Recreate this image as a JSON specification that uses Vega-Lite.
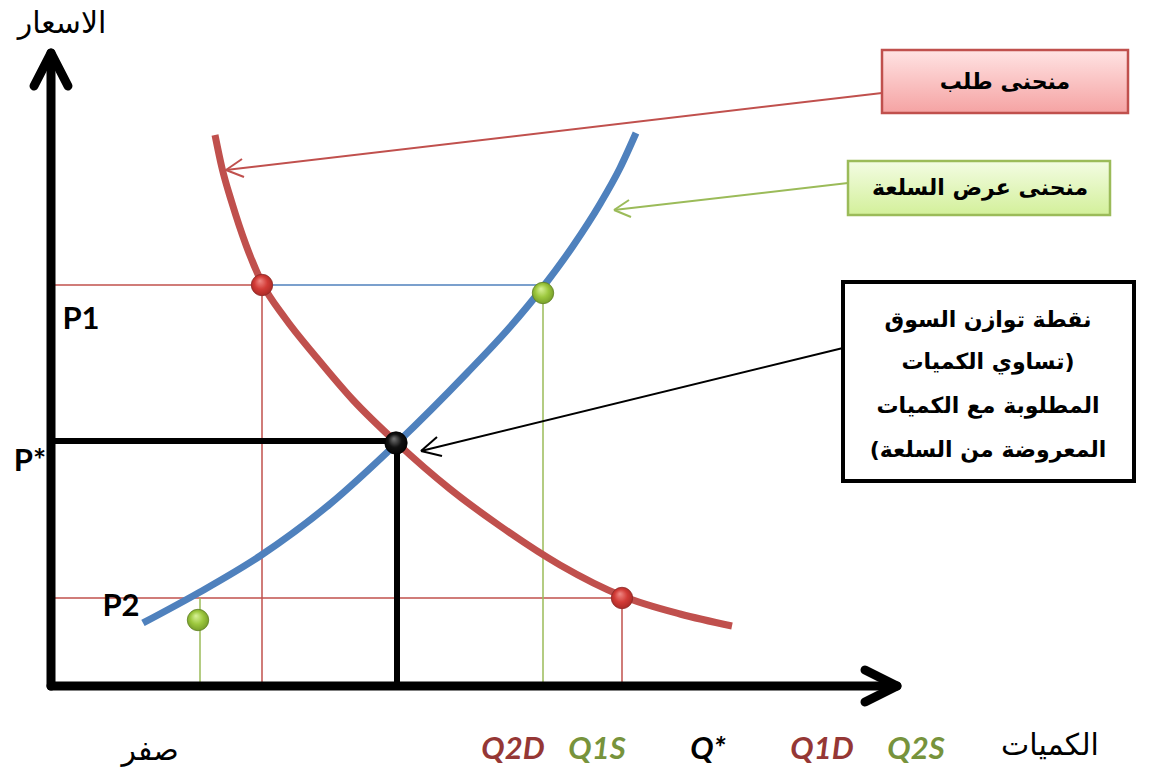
{
  "$schema": "https://vega.github.io/schema/vega-lite/v6.json",
  "width": 1149,
  "height": 778,
  "autosize": {"type": "fit", "contains": "padding"},
  "padding": 0,
  "background": "white",
  "config": {"view": {"stroke": null}},
  "datasets": {
    "guideRed": [
      {"x": 48, "y": 285, "x2": 262, "y2": 285},
      {"x": 262, "y": 285, "x2": 262, "y2": 686},
      {"x": 48, "y": 598, "x2": 622, "y2": 598},
      {"x": 622, "y": 598, "x2": 622, "y2": 686}
    ],
    "guideBlue": [
      {"x": 262, "y": 285, "x2": 543, "y2": 285}
    ],
    "guideGreen": [
      {"x": 543, "y": 293, "x2": 543, "y2": 686},
      {"x": 200, "y": 598, "x2": 200, "y2": 686}
    ],
    "guideBlack": [
      {"x": 48, "y": 441, "x2": 397, "y2": 441},
      {"x": 397, "y": 443, "x2": 397, "y2": 686}
    ],
    "axes": [
      {"x": 51, "y": 55, "x2": 51, "y2": 686},
      {"x": 51, "y": 53, "x2": 34, "y2": 86},
      {"x": 51, "y": 53, "x2": 68, "y2": 86},
      {"x": 51, "y": 686, "x2": 895, "y2": 686},
      {"x": 897, "y": 686, "x2": 865, "y2": 670},
      {"x": 897, "y": 686, "x2": 865, "y2": 702}
    ],
    "demand": [
      {"x": 215, "y": 135}, {"x": 222, "y": 168}, {"x": 232, "y": 203},
      {"x": 246, "y": 245}, {"x": 262, "y": 283}, {"x": 285, "y": 318},
      {"x": 317, "y": 358}, {"x": 353, "y": 400}, {"x": 397, "y": 443},
      {"x": 450, "y": 489}, {"x": 500, "y": 526}, {"x": 560, "y": 565},
      {"x": 622, "y": 596}, {"x": 680, "y": 614}, {"x": 732, "y": 626}
    ],
    "supply": [
      {"x": 143, "y": 623}, {"x": 200, "y": 592}, {"x": 260, "y": 556},
      {"x": 330, "y": 504}, {"x": 397, "y": 443}, {"x": 467, "y": 373},
      {"x": 510, "y": 327}, {"x": 543, "y": 287}, {"x": 573, "y": 246},
      {"x": 600, "y": 204}, {"x": 620, "y": 168}, {"x": 636, "y": 133}
    ],
    "dotsRed": [{"x": 262, "y": 285}, {"x": 622, "y": 598}],
    "dotsGreen": [{"x": 543, "y": 293}, {"x": 198, "y": 620}],
    "dotsBlack": [{"x": 396, "y": 443}],
    "boxes": [
      {"box": "demand", "x": 882, "x2": 1128, "y": 50, "y2": 113},
      {"box": "supply", "x": 848, "x2": 1110, "y": 161, "y2": 215},
      {"box": "equilibrium", "x": 843, "x2": 1134, "y": 282, "y2": 481}
    ],
    "arrowRed": [
      {"x": 882, "y": 93, "x2": 226, "y2": 170},
      {"x": 226, "y": 170, "x2": 244, "y2": 177},
      {"x": 226, "y": 170, "x2": 242, "y2": 159}
    ],
    "arrowGreen": [
      {"x": 848, "y": 183, "x2": 614, "y2": 210},
      {"x": 614, "y": 210, "x2": 631, "y2": 217},
      {"x": 614, "y": 210, "x2": 629, "y2": 200}
    ],
    "arrowBlack": [
      {"x": 843, "y": 348, "x2": 421, "y2": 451},
      {"x": 421, "y": 451, "x2": 442, "y2": 456},
      {"x": 421, "y": 451, "x2": 437, "y2": 437}
    ],
    "qLabels": [
      {"label": "Q2D", "curve": "demand", "x": 513, "y": 750},
      {"label": "Q1S", "curve": "supply", "x": 597, "y": 750},
      {"label": "Q*", "curve": "equilibrium", "x": 708, "y": 750},
      {"label": "Q1D", "curve": "demand", "x": 822, "y": 750},
      {"label": "Q2S", "curve": "supply", "x": 916, "y": 750}
    ],
    "pLabels": [
      {"label": "P1", "x": 81, "y": 320},
      {"label": "P*", "x": 30, "y": 462},
      {"label": "P2", "x": 121, "y": 607}
    ],
    "arabicLabels": [
      {"label": "الاسعار", "x": 62, "y": 24},
      {"label": "صفر", "x": 150, "y": 751},
      {"label": "الكميات", "x": 1050, "y": 746}
    ],
    "boxText": [
      {"label": "منحنى طلب", "x": 1005, "y": 82},
      {"label": "منحنى عرض السلعة", "x": 980, "y": 188},
      {"label": "نقطة توازن السوق", "x": 988, "y": 320},
      {"label": "\u200f(تساوي الكميات", "x": 988, "y": 362},
      {"label": "المطلوبة مع الكميات", "x": 988, "y": 406},
      {"label": "المعروضة من السلعة)\u200f", "x": 988, "y": 450}
    ]
  },
  "encoding": {
    "x": {"field": "x", "type": "quantitative", "scale": {"domain": [0, 1149]}, "axis": null},
    "y": {"field": "y", "type": "quantitative", "scale": {"domain": [0, 778], "reverse": true}, "axis": null}
  },
  "layer": [
    {
      "data": {"name": "guideRed"},
      "mark": {"type": "rule", "color": "#C0504D", "strokeWidth": 1.5},
      "encoding": {"x2": {"field": "x2"}, "y2": {"field": "y2"}}
    },
    {
      "data": {"name": "guideBlue"},
      "mark": {"type": "rule", "color": "#4F81BD", "strokeWidth": 1.5},
      "encoding": {"x2": {"field": "x2"}, "y2": {"field": "y2"}}
    },
    {
      "data": {"name": "guideGreen"},
      "mark": {"type": "rule", "color": "#9BBB59", "strokeWidth": 1.5},
      "encoding": {"x2": {"field": "x2"}, "y2": {"field": "y2"}}
    },
    {
      "data": {"name": "demand"},
      "mark": {"type": "line", "color": "#C0504D", "strokeWidth": 7, "interpolate": "monotone"},
      "encoding": {}
    },
    {
      "data": {"name": "supply"},
      "mark": {"type": "line", "color": "#4F81BD", "strokeWidth": 7, "interpolate": "monotone"},
      "encoding": {}
    },
    {
      "data": {"name": "guideBlack"},
      "mark": {"type": "rule", "color": "black", "strokeWidth": 6},
      "encoding": {"x2": {"field": "x2"}, "y2": {"field": "y2"}}
    },
    {
      "data": {"name": "axes"},
      "mark": {"type": "rule", "color": "black", "strokeWidth": 9, "strokeCap": "round"},
      "encoding": {"x2": {"field": "x2"}, "y2": {"field": "y2"}}
    },
    {
      "data": {"name": "dotsRed"},
      "mark": {
        "type": "point", "filled": true, "size": 460, "opacity": 1,
        "stroke": "#8B2A27", "strokeWidth": 0.8,
        "fill": {"gradient": "radial", "x1": 0.4, "y1": 0.3, "r1": 0, "x2": 0.5, "y2": 0.5, "r2": 0.6,
          "stops": [{"offset": 0, "color": "#F08A86"}, {"offset": 0.5, "color": "#D23B36"}, {"offset": 1, "color": "#9E2622"}]}
      }
    },
    {
      "data": {"name": "dotsGreen"},
      "mark": {
        "type": "point", "filled": true, "size": 460, "opacity": 1,
        "stroke": "#5E7F22", "strokeWidth": 0.8,
        "fill": {"gradient": "radial", "x1": 0.4, "y1": 0.3, "r1": 0, "x2": 0.5, "y2": 0.5, "r2": 0.6,
          "stops": [{"offset": 0, "color": "#D9F29A"}, {"offset": 0.5, "color": "#9DC83E"}, {"offset": 1, "color": "#6B9124"}]}
      }
    },
    {
      "data": {"name": "dotsBlack"},
      "mark": {
        "type": "point", "filled": true, "size": 500, "opacity": 1,
        "stroke": "black", "strokeWidth": 0.8,
        "fill": {"gradient": "radial", "x1": 0.4, "y1": 0.3, "r1": 0, "x2": 0.5, "y2": 0.5, "r2": 0.6,
          "stops": [{"offset": 0, "color": "#777777"}, {"offset": 0.5, "color": "#111111"}, {"offset": 1, "color": "#000000"}]}
      }
    },
    {
      "data": {"name": "arrowRed"},
      "mark": {"type": "rule", "color": "#C0504D", "strokeWidth": 2},
      "encoding": {"x2": {"field": "x2"}, "y2": {"field": "y2"}}
    },
    {
      "data": {"name": "arrowGreen"},
      "mark": {"type": "rule", "color": "#9BBB59", "strokeWidth": 2},
      "encoding": {"x2": {"field": "x2"}, "y2": {"field": "y2"}}
    },
    {
      "data": {"name": "arrowBlack"},
      "mark": {"type": "rule", "color": "black", "strokeWidth": 2},
      "encoding": {"x2": {"field": "x2"}, "y2": {"field": "y2"}}
    },
    {
      "data": {"name": "boxes"},
      "mark": {"type": "rect", "fill": "#7F7F7F", "opacity": 0.35, "xOffset": 3, "yOffset": 4},
      "encoding": {"x2": {"field": "x2"}, "y2": {"field": "y2"}}
    },
    {
      "data": {"name": "boxes"},
      "transform": [{"filter": "datum.box === 'demand'"}],
      "mark": {
        "type": "rect", "stroke": "#C0504D", "strokeWidth": 2.5,
        "fill": {"gradient": "linear", "x1": 0, "y1": 0, "x2": 0, "y2": 1,
          "stops": [{"offset": 0, "color": "#FFE3E3"}, {"offset": 1, "color": "#F5A3A3"}]}
      },
      "encoding": {"x2": {"field": "x2"}, "y2": {"field": "y2"}}
    },
    {
      "data": {"name": "boxes"},
      "transform": [{"filter": "datum.box === 'supply'"}],
      "mark": {
        "type": "rect", "stroke": "#9BBB59", "strokeWidth": 2.5,
        "fill": {"gradient": "linear", "x1": 0, "y1": 0, "x2": 0, "y2": 1,
          "stops": [{"offset": 0, "color": "#F3FCE3"}, {"offset": 1, "color": "#D3F09A"}]}
      },
      "encoding": {"x2": {"field": "x2"}, "y2": {"field": "y2"}}
    },
    {
      "data": {"name": "boxes"},
      "transform": [{"filter": "datum.box === 'equilibrium'"}],
      "mark": {"type": "rect", "stroke": "black", "strokeWidth": 4, "fill": "white"},
      "encoding": {"x2": {"field": "x2"}, "y2": {"field": "y2"}}
    },
    {
      "data": {"name": "boxText"},
      "mark": {"type": "text", "font": "DejaVu Sans", "fontWeight": "bold", "fontSize": 22, "color": "black", "align": "center", "baseline": "middle"},
      "encoding": {"text": {"field": "label"}}
    },
    {
      "data": {"name": "arabicLabels"},
      "mark": {"type": "text", "font": "DejaVu Sans", "fontSize": 30, "color": "black", "align": "center", "baseline": "middle"},
      "encoding": {"text": {"field": "label"}}
    },
    {
      "data": {"name": "pLabels"},
      "mark": {"type": "text", "font": "Lato", "fontWeight": "bold", "fontSize": 31, "color": "black", "align": "center", "baseline": "middle"},
      "encoding": {"text": {"field": "label"}}
    },
    {
      "data": {"name": "qLabels"},
      "mark": {"type": "text", "font": "Lato", "fontWeight": "bold", "fontStyle": "italic", "fontSize": 31, "align": "center", "baseline": "middle"},
      "encoding": {
        "text": {"field": "label"},
        "color": {
          "field": "curve", "type": "nominal", "legend": null,
          "scale": {"domain": ["demand", "supply", "equilibrium"], "range": ["#953735", "#77933C", "#000000"]}
        }
      }
    }
  ]
}
